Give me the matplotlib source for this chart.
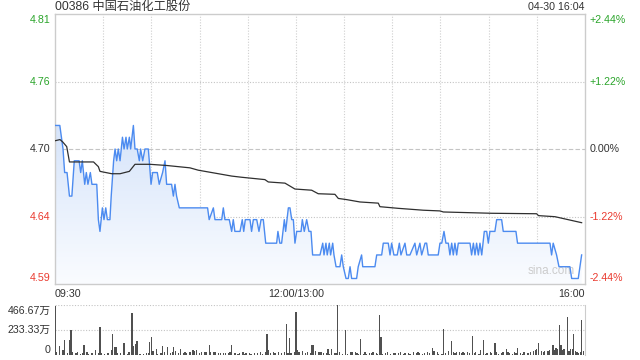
import numpy as np
import matplotlib
matplotlib.use('Agg')
import matplotlib.pyplot as plt
from matplotlib.patches import Polygon
from matplotlib.colors import LinearSegmentedColormap

plt.rcParams['font.family'] = ['Liberation Sans', 'Noto Sans CJK SC', 'DejaVu Sans']

# Basic info
titulo = '00386 中国石油化工股份'
carimbo = '04-30 16:04'
prev_close = 4.70
price_labels = ['4.81', '4.76', '4.70', '4.64', '4.59']
pct_labels = ['+2.44%', '+1.22%', '0.00%', '-1.22%', '-2.44%']
pct_steps = [2.44, 1.22, 0.0, -1.22, -2.44]
time_labels = ['09:30', '12:00/13:00', '16:00']
vol_labels = ['466.67万', '233.33万', '0']
vol_ticks = [466.67, 233.33, 0]

# Price line (minutes since 09:30, lunch removed)
price_t = [0, 3, 5, 6, 7.5, 9, 10.5, 12, 15, 16, 17, 18.5, 19.5, 20.5, 22, 23, 26, 27, 28,
           29.5, 30.5, 31.6, 32.6, 34.2, 35, 36, 36.5, 37.4, 38.4, 39.4, 40.5, 42, 43, 44.2,
           45, 46.3, 47.1, 48.8, 49.8, 51.2, 52.5, 53.3, 54.6, 56, 58.1, 58.7, 59.8, 60.8,
           63.7, 64.9, 67, 68.5, 69.5, 72.6, 73.7, 74.7, 75.7, 77.4, 95, 96, 98.6, 99.6,
           103.8, 104.8, 105.8, 108.5, 110, 111, 112, 115.2, 116.6, 117.5, 118.5, 121.4,
           122.4, 123.5, 125.6, 127, 128.3, 129.7, 131.2, 138, 138.8, 140, 141.1, 142.8,
           143.6, 145.3, 146.3, 147.4, 148.4, 149.4, 150.5, 153.2, 154, 155.2, 156.7, 158.1,
           159.4, 160.4, 165, 166.7, 167.5, 168.7, 169.5, 170.8, 171.6, 172.9, 173.7, 175,
           177.4, 178.5, 179.5, 181.2, 182.6, 183.7, 184.7, 187.8, 188.8, 190.9, 191.6,
           199.2, 200.3, 203.4, 204.4, 207.5, 208.6, 209.6, 211, 213.1, 214.4, 215.4, 217.9,
           219, 221, 224.1, 225.2, 227.2, 228.3, 230.4, 231.4, 232.4, 238.6, 239.7, 240.8,
           242.2, 243.4, 244.9, 245.9, 247, 248, 249, 250.1, 251.1, 258.4, 259.4, 260.5,
           261.5, 262.5, 263.6, 264.6, 265.7, 267.3, 268.8, 269.8, 270.8, 273.9, 275, 278.1,
           279.1, 287, 288, 308.2, 309.2, 310.2, 312.3, 313.8, 320.6, 321.7, 325.8, 327.9]
price_v = [4.72, 4.72, 4.70, 4.68, 4.68, 4.66, 4.66, 4.69, 4.69, 4.68, 4.69, 4.67, 4.68, 4.67,
           4.68, 4.67, 4.67, 4.64, 4.63, 4.65, 4.64, 4.65, 4.64, 4.64, 4.66, 4.68, 4.69, 4.70,
           4.69, 4.70, 4.69, 4.71, 4.70, 4.71, 4.70, 4.71, 4.70, 4.72, 4.70, 4.70, 4.69, 4.70,
           4.69, 4.70, 4.70, 4.69, 4.67, 4.68, 4.68, 4.67, 4.68, 4.69, 4.67, 4.67, 4.66, 4.67,
           4.66, 4.65, 4.65, 4.64, 4.65, 4.64, 4.64, 4.65, 4.64, 4.64, 4.63, 4.64, 4.63, 4.63,
           4.64, 4.63, 4.64, 4.64, 4.63, 4.64, 4.64, 4.63, 4.64, 4.64, 4.62, 4.62, 4.63, 4.62,
           4.62, 4.64, 4.63, 4.65, 4.65, 4.64, 4.64, 4.62, 4.63, 4.63, 4.64, 4.63, 4.64, 4.63,
           4.63, 4.61, 4.61, 4.62, 4.61, 4.62, 4.61, 4.62, 4.61, 4.62, 4.61, 4.60, 4.60, 4.61,
           4.60, 4.59, 4.59, 4.60, 4.59, 4.59, 4.60, 4.61, 4.60, 4.60, 4.61, 4.61, 4.62, 4.62,
           4.61, 4.62, 4.61, 4.61, 4.62, 4.61, 4.62, 4.61, 4.61, 4.62, 4.61, 4.62, 4.61, 4.62,
           4.62, 4.61, 4.61, 4.62, 4.62, 4.63, 4.62, 4.62, 4.61, 4.62, 4.61, 4.62, 4.61, 4.62,
           4.62, 4.61, 4.62, 4.61, 4.62, 4.61, 4.62, 4.61, 4.63, 4.63, 4.62, 4.63, 4.63, 4.64,
           4.64, 4.63, 4.63, 4.62, 4.62, 4.61, 4.62, 4.61, 4.60, 4.60, 4.59, 4.59, 4.61]

# Average price line
avg_t = [0, 3.1, 4.8, 7.3, 9, 24, 27, 28, 35.3, 40.5, 46.3, 49.8, 59.1, 69.5, 84, 89.2, 101.7,
         110, 116.2, 130.7, 132.8, 143.2, 149.4, 159.8, 163.9, 174.3, 176.4, 181.6, 189.9,
         201.3, 202.3, 213.7, 229.3, 239.7, 241.8, 271.9, 299.9, 301, 311.3, 327.9]
avg_v = [4.707, 4.708, 4.706, 4.702, 4.689, 4.689, 4.685, 4.681, 4.679, 4.679, 4.681, 4.687,
         4.687, 4.686, 4.684, 4.682, 4.679, 4.677, 4.676, 4.674, 4.672, 4.671, 4.666, 4.665,
         4.662, 4.6615, 4.658, 4.657, 4.655, 4.654, 4.651, 4.6496, 4.648, 4.6474, 4.6465,
         4.6454, 4.645, 4.6434, 4.6425, 4.6374]

# Volume (万)
vol_t = [0, 1, 3, 5, 6, 8, 9, 10, 11, 13, 14, 16, 17, 18, 20, 21, 23, 25, 27, 28, 29, 31, 33,
         35, 36, 37, 38, 39, 41, 43, 45, 46, 48, 49, 50, 51, 53, 55, 57, 58, 59, 60, 61, 63,
         64, 66, 67, 68, 70, 72, 73, 74, 75, 77, 78, 80, 81, 82, 84, 86, 87, 88, 90, 91, 93,
         94, 96, 97, 99, 100, 102, 103, 105, 106, 108, 109, 110, 112, 114, 115, 117, 118, 119,
         121, 122, 124, 126, 128, 129, 131, 132, 133, 134, 136, 137, 139, 141, 143, 144, 145,
         146, 147, 149, 150, 151, 152, 154, 156, 157, 159, 160, 161, 162, 164, 165, 166, 167,
         169, 170, 171, 172, 174, 175, 176, 177, 179, 181, 182, 184, 185, 187, 188, 189, 190,
         192, 193, 194, 196, 197, 198, 200, 201, 202, 203, 204, 206, 207, 209, 211, 212, 214,
         215, 217, 218, 220, 221, 223, 225, 226, 227, 229, 230, 232, 233, 235, 236, 238, 239,
         241, 242, 243, 245, 247, 248, 249, 250, 252, 253, 254, 255, 257, 258, 260, 261, 262,
         264, 265, 267, 268, 269, 271, 272, 274, 275, 276, 278, 279, 281, 282, 283, 285, 286,
         287, 288, 290, 291, 292, 294, 295, 296, 298, 299, 300, 301, 303, 304, 305, 307, 308,
         310, 311, 312, 313, 314, 315, 316, 317, 319, 320, 321, 322, 323, 324, 325, 326, 327,
         328, 329]
vol_v = [460, 25, 80, 48, 136, 16, 143, 231, 32, 16, 25, 10, 16, 89, 25, 10, 16, 50, 16, 263,
         16, 10, 16, 48, 193, 73, 73, 16, 16, 111, 10, 25, 396, 80, 105, 130, 10, 10, 16, 16,
         120, 168, 41, 57, 10, 16, 80, 25, 73, 16, 25, 73, 41, 16, 57, 16, 32, 16, 25, 48, 41,
         48, 22, 25, 32, 25, 89, 25, 32, 25, 19, 16, 16, 19, 16, 25, 98, 16, 10, 16, 25, 10,
         16, 16, 10, 16, 16, 25, 10, 25, 193, 48, 16, 25, 16, 25, 16, 32, 288, 16, 162, 16, 25,
         400, 48, 25, 35, 16, 25, 16, 89, 98, 41, 25, 25, 32, 16, 16, 57, 10, 57, 16, 16, 466,
         32, 10, 231, 10, 32, 32, 25, 16, 10, 152, 10, 25, 10, 16, 16, 25, 16, 10, 374, 168, 10,
         16, 25, 10, 16, 16, 16, 25, 10, 16, 16, 10, 25, 16, 25, 16, 10, 16, 25, 16, 67, 41, 32,
         10, 10, 247, 16, 35, 127, 25, 16, 25, 25, 16, 25, 16, 25, 16, 174, 16, 25, 10, 48, 143,
         10, 16, 25, 16, 111, 25, 10, 16, 25, 57, 25, 16, 10, 25, 16, 67, 16, 10, 25, 16, 16,
         25, 35, 48, 57, 111, 35, 25, 41, 41, 48, 89, 48, 63, 57, 279, 89, 48, 57, 358, 41, 57,
         57, 193, 41, 25, 19, 25, 327, 41]

verde = '#2ba52b'
vermelho = '#ea3a2f'
cinza_txt = '#333333'
grade = '#cfcfcf'

fig = plt.figure(figsize=(6.4, 3.6), dpi=100)
ax = fig.add_axes([55 / 640, 1 - 284 / 360, 530 / 640, 270 / 360])
axv = fig.add_axes([55 / 640, 1 - 355 / 360, 530 / 640, 50 / 360])

y_lo = prev_close * (1 - 0.0244)
y_hi = prev_close * (1 + 0.0244)
grid_prices = [prev_close * (1 + p / 100) for p in pct_steps]

# Gradient fill under the price line
pts = np.column_stack([[price_t[0]] + price_t + [price_t[-1]], [y_lo] + price_v + [y_lo]])
area = Polygon(pts, closed=True, facecolor='none', edgecolor='none')
ax.add_patch(area)
cmap = LinearSegmentedColormap.from_list('azul', ['#fafcff', '#d6e4fa'])
grad = np.linspace(1, 0, 256).reshape(-1, 1)
im = ax.imshow(grad, extent=[0, 330, y_lo, max(price_v)], aspect='auto', cmap=cmap,
               origin='upper', zorder=1)
im.set_clip_path(area)

# Grid
for i, gp in enumerate(grid_prices[1:-1]):
    estilo = (0, (4, 2)) if pct_steps[i + 1] == 0 else (0, (1, 1.5))
    ax.axhline(gp, color='#c4c4c4', lw=0.8, ls=estilo, zorder=0.5)
for t in range(30, 330, 30):
    ax.axvline(t, color=grade, lw=0.8, ls=(0, (1, 1.5)), zorder=0.5)

ax.plot(price_t, price_v, color='#4c8bf0', lw=1.0, zorder=3)
ax.plot(avg_t, avg_v, color='#2f2f2f', lw=0.9, zorder=4)

ax.set_xlim(0, 330)
ax.set_ylim(y_lo, y_hi)
ax.set_xticks([])
ax.set_yticks([])
for s in ax.spines.values():
    s.set_color('#cccccc')
    s.set_linewidth(1.0)

# Axis labels drawn as text
cores = [verde, verde, cinza_txt, vermelho, vermelho]
ytr = ax.get_yaxis_transform()
for i, gp in enumerate(grid_prices):
    va = 'top' if i == 0 else ('bottom' if i == len(grid_prices) - 1 else 'center')
    dy = -0.0007 if i == 0 else (0.0007 if i == len(grid_prices) - 1 else 0)
    ax.text(-0.008, gp + dy, price_labels[i], transform=ytr, ha='right', va=va,
            fontsize=7.7, color=cores[i])
    ax.text(1.009, gp + dy, pct_labels[i], transform=ytr, ha='left', va=va,
            fontsize=7.7, color=cores[i])

ax.text(0, -0.02, time_labels[0], transform=ax.transAxes, ha='left', va='top',
        fontsize=7.7, color=cinza_txt)
ax.text(150 / 330, -0.02, time_labels[1], transform=ax.transAxes, ha='center', va='top',
        fontsize=7.7, color=cinza_txt)
ax.text(1, -0.02, time_labels[2], transform=ax.transAxes, ha='right', va='top',
        fontsize=7.7, color=cinza_txt)

fig.text(55 / 640, 1 - 7 / 360, titulo, ha='left', va='center', fontsize=8.8, color=cinza_txt)
fig.text(584 / 640, 1 - 7.5 / 360, carimbo, ha='right', va='center', fontsize=7.7,
         color=cinza_txt)
ax.text(0.98, 0.025, 'sina.com', transform=ax.transAxes, ha='right', va='bottom',
        fontsize=8.5, color='#cccccc', zorder=2)

# Volume pane
axv.bar(vol_t, vol_v, width=0.8, color='#505050', zorder=2)
axv.set_xlim(0, 330)
axv.set_ylim(0, vol_ticks[0])
axv.set_xticks([])
axv.set_yticks([])
for lado in ['top', 'left', 'bottom']:
    axv.spines[lado].set_visible(False)
axv.spines['right'].set_color('#cccccc')
for v in vol_ticks[:2]:
    axv.axhline(v, color='#c4c4c4', lw=0.8, ls=(0, (1, 1.5)), zorder=0.5)
vtr = axv.get_yaxis_transform()
axv.text(-0.008, vol_ticks[0] - 8, vol_labels[0], transform=vtr, ha='right', va='top',
         fontsize=7.7, color=cinza_txt)
axv.text(-0.008, vol_ticks[1], vol_labels[1], transform=vtr, ha='right', va='center',
         fontsize=7.7, color=cinza_txt)
axv.text(-0.008, vol_ticks[2], vol_labels[2], transform=vtr, ha='right', va='bottom',
         fontsize=7.7, color=cinza_txt)

fig.savefig('out.png', dpi=100)
plt.close(fig)
